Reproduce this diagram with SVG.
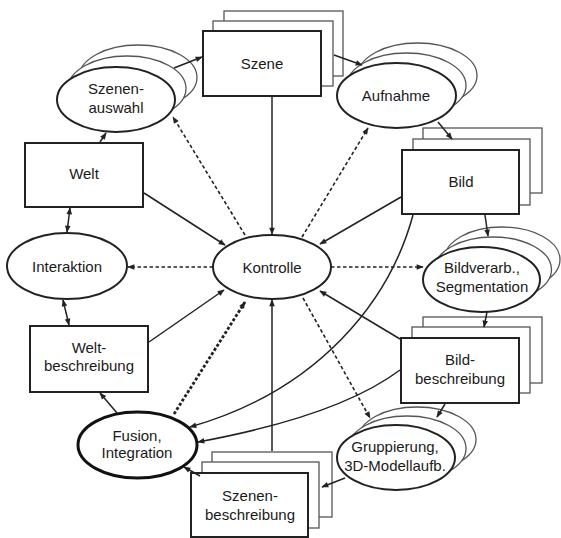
<svg xmlns="http://www.w3.org/2000/svg" width="561" height="538" viewBox="0 0 561 538">
<style>
.bk{fill:#fff;stroke:#555;stroke-width:1.3}
.fr{fill:#fff;stroke:#222;stroke-width:2}
.th{fill:#fff;stroke:#111;stroke-width:3}
text{font-family:"Liberation Sans",Arial,sans-serif;font-size:15px;fill:#1a1a1a;text-anchor:middle}
.c{fill:none;stroke:#222;stroke-width:1.5}
.d{fill:none;stroke:#222;stroke-width:1.6;stroke-dasharray:3.5 2.5}
.dd{fill:none;stroke:#222;stroke-width:2.8;stroke-dasharray:3 2}
.e{marker-end:url(#ah)}
.s{marker-start:url(#ah)}
</style>
<defs>
<marker id="ah" viewBox="0 0 10 10" refX="9" refY="5" markerWidth="8" markerHeight="7" markerUnits="userSpaceOnUse" orient="auto-start-reverse"><path d="M0,1 L10,5 L0,9 z" fill="#222"/></marker>
</defs>
<rect width="561" height="538" fill="#fff"/>

<g id="szene">
<rect class="bk" x="224" y="11" width="119" height="65"/>
<rect class="bk" x="213" y="21" width="120" height="65"/>
<rect class="fr" x="203" y="31" width="118" height="65"/>
<text x="262" y="69">Szene</text>
</g>

<g id="szenenauswahl">
<ellipse class="bk" cx="138" cy="77.5" rx="59" ry="32.5"/>
<ellipse class="bk" cx="127" cy="88.5" rx="59" ry="32.5"/>
<ellipse class="fr" cx="116" cy="99.5" rx="59" ry="32.5"/>
<text x="116" y="94">Szenen-</text>
<text x="116" y="113">auswahl</text>
</g>

<g id="aufnahme">
<ellipse class="bk" cx="417.5" cy="75.5" rx="59.5" ry="32.5"/>
<ellipse class="bk" cx="406.5" cy="85.5" rx="59.5" ry="32.5"/>
<ellipse class="fr" cx="396.5" cy="95.5" rx="59.5" ry="32.5"/>
<text x="396" y="101">Aufnahme</text>
</g>

<g id="welt">
<rect class="fr" x="25" y="143" width="118" height="64"/>
<text x="84" y="179">Welt</text>
</g>

<g id="bild">
<rect class="bk" x="423" y="128" width="119" height="65"/>
<rect class="bk" x="413" y="139" width="117" height="66"/>
<rect class="fr" x="402" y="150" width="117" height="64"/>
<text x="461" y="187">Bild</text>
</g>

<g id="interaktion">
<ellipse class="fr" cx="67" cy="266" rx="60" ry="33"/>
<text x="67" y="272">Interaktion</text>
</g>

<g id="kontrolle">
<ellipse class="fr" cx="272" cy="267" rx="59" ry="32"/>
<text x="272" y="273">Kontrolle</text>
</g>

<g id="bildverarb">
<ellipse class="bk" cx="502" cy="259.5" rx="58" ry="32.5"/>
<ellipse class="bk" cx="493" cy="269.5" rx="58.5" ry="32.5"/>
<ellipse class="fr" cx="481.5" cy="279.5" rx="58.5" ry="32.5"/>
<text x="482" y="273">Bildverarb.,</text>
<text x="482" y="292">Segmentation</text>
</g>

<g id="weltbeschreibung">
<rect class="fr" x="30" y="326" width="118" height="66"/>
<text x="89" y="353">Welt-</text>
<text x="89" y="371">beschreibung</text>
</g>

<g id="bildbeschreibung">
<rect class="bk" x="423" y="317" width="119" height="66"/>
<rect class="bk" x="412" y="327" width="118" height="66"/>
<rect class="fr" x="401" y="338" width="118" height="65"/>
<text x="460" y="365">Bild-</text>
<text x="460" y="384">beschreibung</text>
</g>

<g id="gruppierung">
<ellipse class="bk" cx="417" cy="439.5" rx="59" ry="32.5"/>
<ellipse class="bk" cx="407" cy="448.5" rx="59" ry="32.5"/>
<ellipse class="fr" cx="396" cy="457.5" rx="59" ry="32.5"/>
<text x="395" y="452">Gruppierung,</text>
<text x="395" y="471">3D-Modellaufb.</text>
</g>

<g id="fusion">
<ellipse class="th" cx="137.5" cy="445" rx="59.5" ry="33"/>
<text x="137" y="441">Fusion,</text>
<text x="137" y="458">Integration</text>
</g>

<g id="szenenbeschreibung">
<rect class="bk" x="212" y="452" width="120" height="65"/>
<rect class="bk" x="202" y="462" width="117" height="66"/>
<rect class="fr" x="191" y="473" width="117" height="64"/>
<text x="250" y="501">Szenen-</text>
<text x="250" y="520">beschreibung</text>
</g>

<g id="connectors">
<line class="c e" x1="272" y1="97" x2="272" y2="234"/>
<line class="c e" x1="144" y1="193" x2="225" y2="245"/>
<line class="c e" x1="401" y1="197" x2="320" y2="244"/>
<line class="c e" x1="149" y1="342" x2="224" y2="290"/>
<line class="c e" x1="400" y1="339" x2="320" y2="291"/>
<line class="c e" x1="272" y1="451" x2="272" y2="300"/>
<line class="dd e" x1="174" y1="414" x2="245" y2="302"/>
<line class="d e" x1="245" y1="235" x2="173" y2="117"/>
<line class="d e" x1="302" y1="237" x2="368" y2="128"/>
<line class="d e" x1="213" y1="267" x2="128" y2="267"/>
<line class="d e" x1="331" y1="267" x2="423" y2="267"/>
<line class="d e" x1="303" y1="298" x2="370" y2="418"/>
<path class="c e" d="M413,215 C390,300 320,390 190,427"/>
<path class="c e" d="M400,370 C360,400 290,425 198,442"/>
<line class="c e" x1="174" y1="68" x2="202" y2="57"/>
<line class="c e" x1="334" y1="55" x2="362" y2="65"/>
<line class="c e" x1="438" y1="122" x2="452" y2="139"/>
<line class="c e" x1="485" y1="215" x2="488" y2="236"/>
<line class="c e" x1="487" y1="312" x2="484" y2="327"/>
<line class="c e" x1="445" y1="404" x2="437" y2="417"/>
<line class="c e" x1="345" y1="478" x2="322" y2="487"/>
<line class="c e" x1="200" y1="476" x2="184" y2="467"/>
<line class="c e" x1="117" y1="413" x2="100" y2="393"/>
<line class="c s e" x1="69" y1="325" x2="63" y2="300"/>
<line class="c s e" x1="67" y1="232" x2="70" y2="208"/>
<line class="c e" x1="100" y1="142" x2="106" y2="133"/>
</g>
</svg>
